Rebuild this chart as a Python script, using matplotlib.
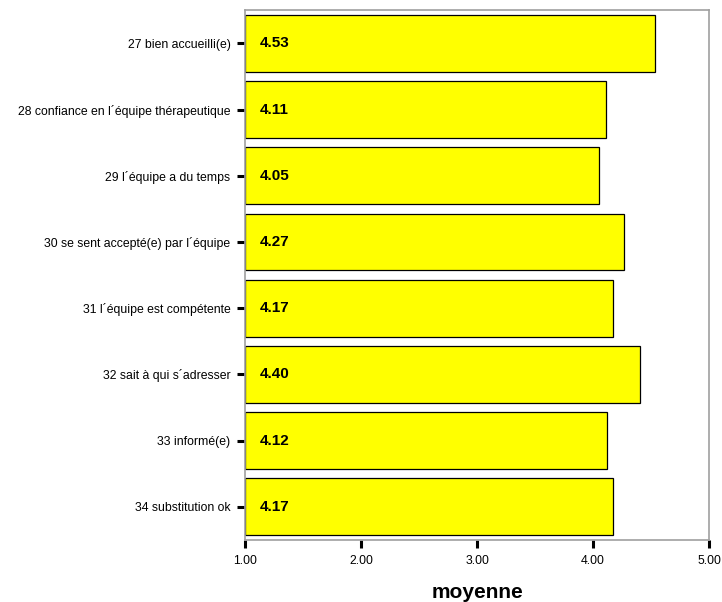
import numpy as np
import matplotlib.pyplot as plt

plt.rcParams['font.family'] = ['Liberation Sans', 'DejaVu Sans']

items = [
    "27 bien accueilli(e)",
    "28 confiance en l´équipe thérapeutique",
    "29 l´équipe a du temps",
    "30 se sent accepté(e) par l´équipe",
    "31 l´équipe est compétente",
    "32 sait à qui s´adresser",
    "33 informé(e)",
    "34 substitution ok",
]
means = [4.53, 4.11, 4.05, 4.27, 4.17, 4.40, 4.12, 4.17]
xticks = [1.0, 2.0, 3.0, 4.0, 5.0]

fig = plt.figure(figsize=(7.22, 6.02), dpi=100)
ax = fig.add_axes([0.3393, 0.103, 0.643, 0.880])

ypos = np.arange(len(items))
widths = [m - 1.0 for m in means]
ax.barh(ypos, widths, left=1.0, height=0.86, color='#ffff00',
        edgecolor='black', linewidth=0.9)

for y, m in zip(ypos, means):
    ax.text(1.13, y, "%.2f" % m, va='center', ha='left',
            fontsize=11, fontweight='bold')

ax.set_xlim(1, 5)
ax.set_ylim(7.5, -0.5)
ax.set_xticks(xticks)
ax.set_xticklabels(["%.2f" % t for t in xticks], fontsize=8.8)
ax.set_yticks(ypos)
ax.set_yticklabels(items, fontsize=8.8)
ax.tick_params(axis='both', direction='out', length=6, width=2.2, color='black', pad=4.5)

for s in ax.spines.values():
    s.set_color('#a0a0a0')
    s.set_linewidth(1.2)

ax.set_xlabel('moyenne', fontsize=15, fontweight='bold', labelpad=12)

fig.savefig('out.png', dpi=100)
